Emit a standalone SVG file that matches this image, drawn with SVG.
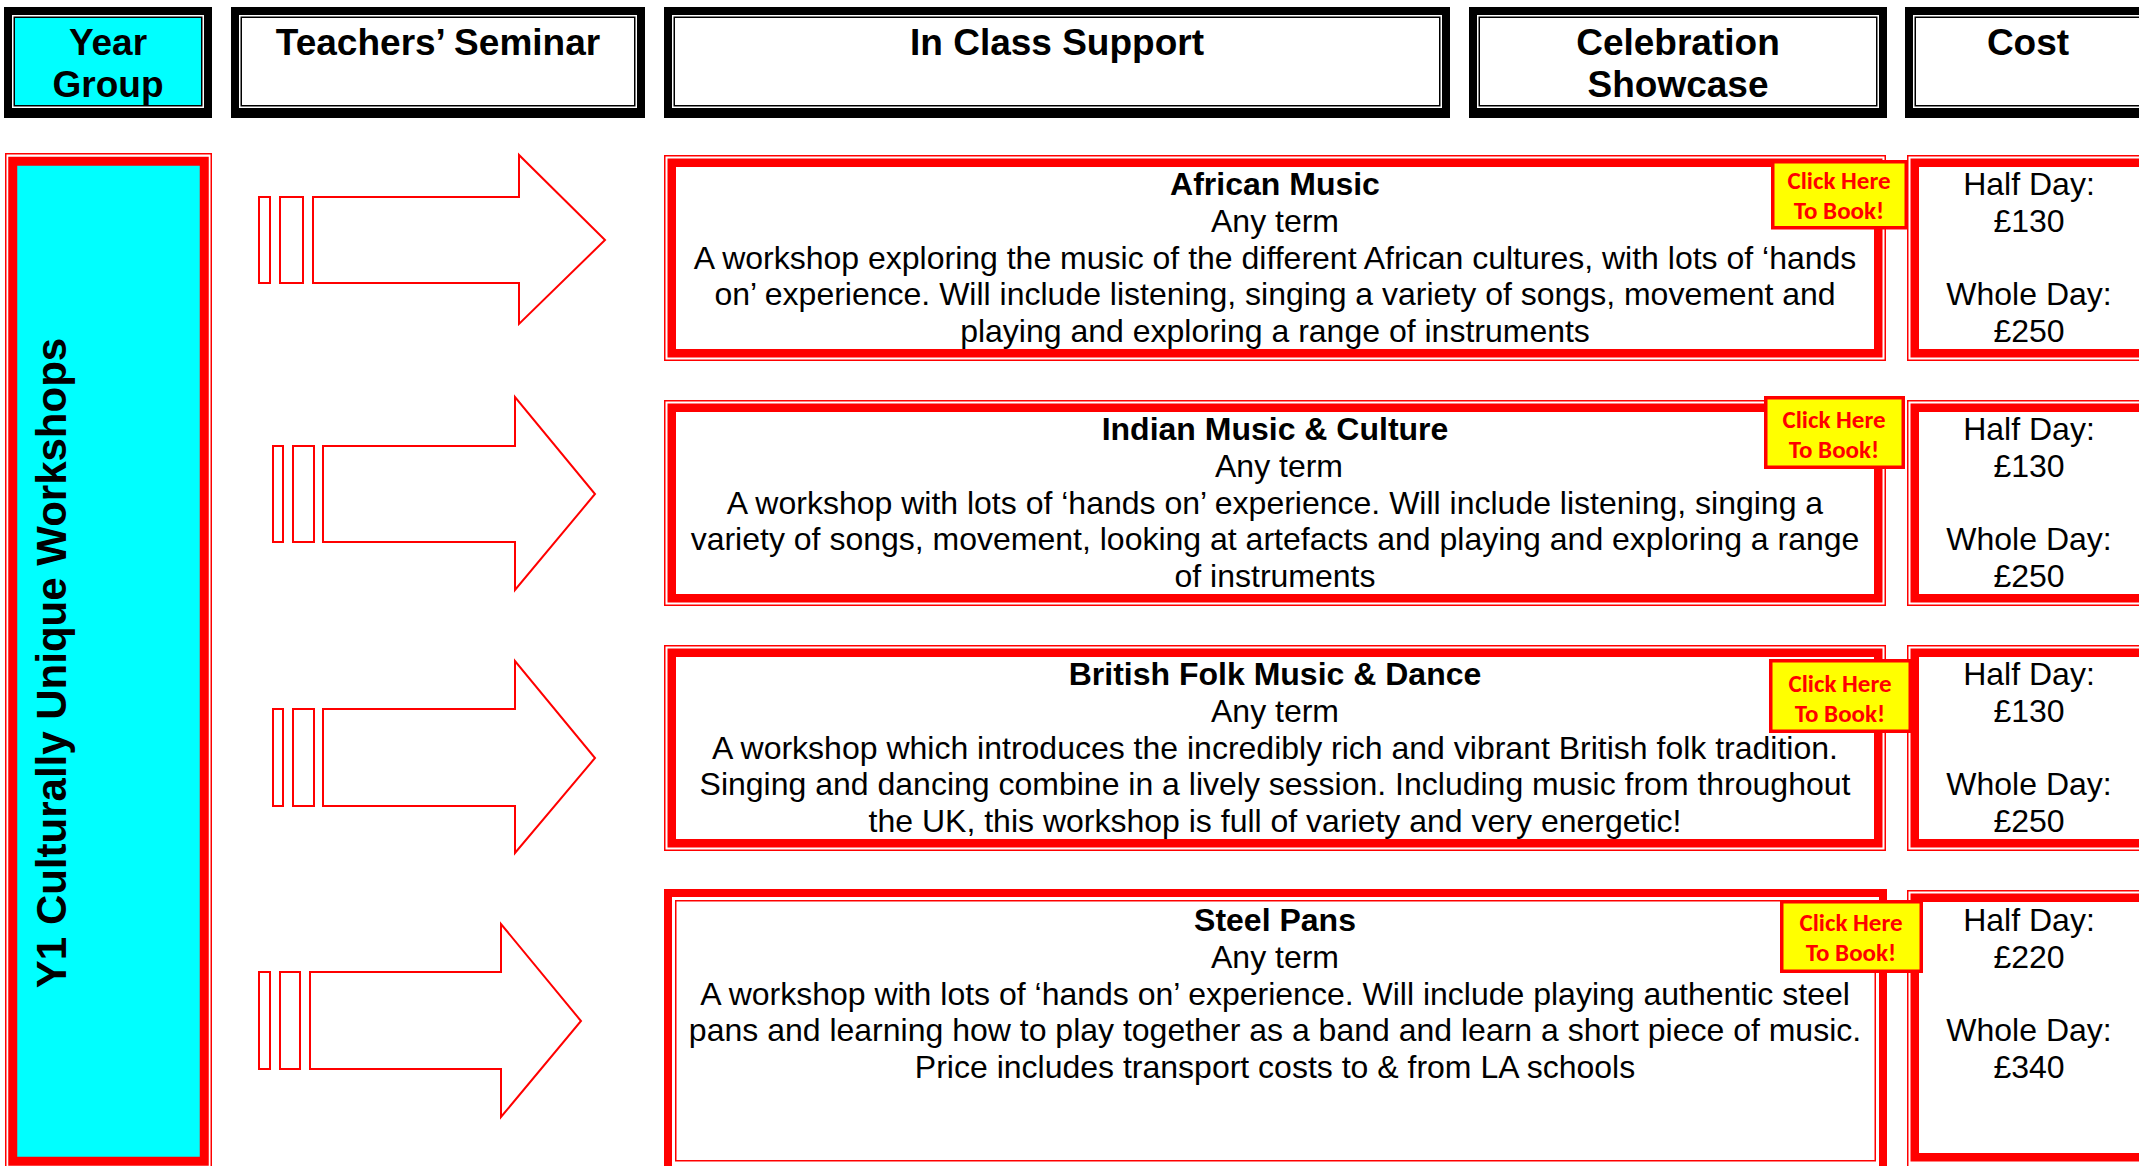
<svg xmlns="http://www.w3.org/2000/svg" width="2139" height="1166" viewBox="0 0 2139 1166">
<style>
.hbo{fill:#000}
.hbg{fill:#fff}
.hbi{fill:#fff;stroke:#000;stroke-width:1.5}
.thin{fill:none;stroke:#ff0000;stroke-width:1.5}
.band{fill:#fff;stroke:#ff0000;stroke-width:8.5}
.arr{fill:#fff;stroke:#ff0000;stroke-width:2;stroke-linejoin:miter}
.ck{fill:#ffff00;stroke:#ff0000;stroke-width:3.5}
.h{font-family:"Liberation Sans",Arial,sans-serif;font-weight:bold;font-size:37px;text-anchor:middle;fill:#000}
.t{font-family:"Liberation Sans",Arial,sans-serif;font-size:32px;text-anchor:middle;fill:#000}
.tb{font-family:"Liberation Sans",Arial,sans-serif;font-size:32px;font-weight:bold;text-anchor:middle;fill:#000}
.ct{font-family:Carlito,Lato,"Open Sans",sans-serif;font-weight:bold;font-size:25px;text-anchor:middle;fill:#ff0000}
.vt{font-family:"Liberation Sans",Arial,sans-serif;font-weight:bold;font-size:42px;text-anchor:middle;fill:#000}
</style>
<rect width="2139" height="1166" fill="#fff"/>

<!-- Header row -->
<g id="hdr-year">
<rect class="hbo" x="4" y="7" width="208" height="111"/>
<rect class="hbg" x="12" y="15" width="192" height="93"/>
<rect class="hbi" x="14.25" y="17.25" width="187.5" height="88.5" style="fill:#00ffff"/>
<text class="h" x="108" y="55">Year</text>
<text class="h" x="108" y="97">Group</text>
</g>
<g id="hdr-teachers">
<rect class="hbo" x="231" y="7" width="414" height="111"/>
<rect class="hbg" x="239" y="15" width="398" height="93"/>
<rect class="hbi" x="241.25" y="17.25" width="393.5" height="88.5"/>
<text class="h" x="438" y="55">Teachers’ Seminar</text>
</g>
<g id="hdr-inclass">
<rect class="hbo" x="664" y="7" width="786" height="111"/>
<rect class="hbg" x="672" y="15" width="770" height="93"/>
<rect class="hbi" x="674.25" y="17.25" width="765.5" height="88.5"/>
<text class="h" x="1057" y="55">In Class Support</text>
</g>
<g id="hdr-celebration">
<rect class="hbo" x="1469" y="7" width="418" height="111"/>
<rect class="hbg" x="1477" y="15" width="402" height="93"/>
<rect class="hbi" x="1479.25" y="17.25" width="397.5" height="88.5"/>
<text class="h" x="1678" y="55">Celebration</text>
<text class="h" x="1678" y="97">Showcase</text>
</g>
<g id="hdr-cost">
<rect class="hbo" x="1905" y="7" width="250" height="111"/>
<rect class="hbg" x="1913" y="15" width="250" height="93"/>
<rect class="hbi" x="1915.25" y="17.25" width="250" height="88.5"/>
<text class="h" x="2028" y="55">Cost</text>
</g>

<!-- Left year group column -->
<g id="year-y1">
<rect class="thin" x="5.75" y="153.75" width="205.5" height="1016"/>
<rect x="12.75" y="161.25" width="191.5" height="1000" fill="#00ffff" stroke="#ff0000" stroke-width="9"/>
<text class="vt" transform="translate(66 663) rotate(-90)">Y1 Culturally Unique Workshops</text>
</g>

<!-- Connectors (arrows) -->
<g id="connectors">
<rect class="arr" x="259" y="197" width="11" height="86"/>
<rect class="arr" x="280" y="197" width="23" height="86"/>
<polygon class="arr" points="313,197 519,197 519,155 605,240 519,324 519,283 313,283"/>

<rect class="arr" x="273" y="446" width="10" height="96"/>
<rect class="arr" x="293" y="446" width="21" height="96"/>
<polygon class="arr" points="323,446 515,446 515,397 595,494 515,590 515,542 323,542"/>

<rect class="arr" x="273" y="709" width="10" height="97"/>
<rect class="arr" x="293" y="709" width="21" height="97"/>
<polygon class="arr" points="323,709 515,709 515,661 595,758 515,853 515,806 323,806"/>

<rect class="arr" x="259" y="972" width="11" height="97"/>
<rect class="arr" x="280" y="972" width="20" height="97"/>
<polygon class="arr" points="310,972 501,972 501,924 581,1021 501,1117 501,1069 310,1069"/>
</g>

<!-- Row 1 -->
<g id="ws-african">
<rect class="thin" x="664.75" y="155.75" width="1220.5" height="204.5"/>
<rect class="band" x="671.75" y="162.75" width="1206.5" height="190.5"/>
<text class="tb" x="1275" y="195">African Music</text>
<text class="t" x="1275" y="232">Any term</text>
<text class="t" x="1275" y="269">A workshop exploring the music of the different African cultures, with lots of ‘hands</text>
<text class="t" x="1275" y="305">on’ experience. Will include listening, singing a variety of songs, movement and</text>
<text class="t" x="1275" y="342">playing and exploring a range of instruments</text>
</g>
<g id="cost-african">
<rect class="thin" x="1907.75" y="155.75" width="260" height="204.5"/>
<rect class="band" x="1914.75" y="162.75" width="260" height="190.5"/>
<text class="t" x="2029" y="195">Half Day:</text>
<text class="t" x="2029" y="232">£130</text>
<text class="t" x="2029" y="305">Whole Day:</text>
<text class="t" x="2029" y="342">£250</text>
</g>

<!-- Row 2 -->
<g id="ws-indian">
<rect class="thin" x="664.75" y="400.75" width="1220.5" height="204.5"/>
<rect class="band" x="671.75" y="407.75" width="1206.5" height="190.5"/>
<text class="tb" x="1275" y="440">Indian Music &amp; Culture</text>
<text class="t" x="1279" y="477">Any term</text>
<text class="t" x="1275" y="514">A workshop with lots of ‘hands on’ experience. Will include listening, singing a</text>
<text class="t" x="1275" y="550">variety of songs, movement, looking at artefacts and playing and exploring a range</text>
<text class="t" x="1275" y="587">of instruments</text>
</g>
<g id="cost-indian">
<rect class="thin" x="1907.75" y="400.75" width="260" height="204.5"/>
<rect class="band" x="1914.75" y="407.75" width="260" height="190.5"/>
<text class="t" x="2029" y="440">Half Day:</text>
<text class="t" x="2029" y="477">£130</text>
<text class="t" x="2029" y="550">Whole Day:</text>
<text class="t" x="2029" y="587">£250</text>
</g>

<!-- Row 3 -->
<g id="ws-folk">
<rect class="thin" x="664.75" y="645.75" width="1220.5" height="204.5"/>
<rect class="band" x="671.75" y="652.75" width="1206.5" height="190.5"/>
<text class="tb" x="1275" y="685">British Folk Music &amp; Dance</text>
<text class="t" x="1275" y="722">Any term</text>
<text class="t" x="1275" y="759">A workshop which introduces the incredibly rich and vibrant British folk tradition.</text>
<text class="t" x="1275" y="795">Singing and dancing combine in a lively session. Including music from throughout</text>
<text class="t" x="1275" y="832">the UK, this workshop is full of variety and very energetic!</text>
</g>
<g id="cost-folk">
<rect class="thin" x="1907.75" y="645.75" width="260" height="204.5"/>
<rect class="band" x="1914.75" y="652.75" width="260" height="190.5"/>
<text class="t" x="2029" y="685">Half Day:</text>
<text class="t" x="2029" y="722">£130</text>
<text class="t" x="2029" y="795">Whole Day:</text>
<text class="t" x="2029" y="832">£250</text>
</g>

<!-- Row 4 -->
<g id="ws-steel">
<rect x="668" y="893" width="1215" height="280" fill="#fff" stroke="#ff0000" stroke-width="8"/>
<rect class="thin" x="675.75" y="900.75" width="1199.5" height="260"/>
<text class="tb" x="1275" y="931">Steel Pans</text>
<text class="t" x="1275" y="968">Any term</text>
<text class="t" x="1275" y="1005">A workshop with lots of ‘hands on’ experience. Will include playing authentic steel</text>
<text class="t" x="1275" y="1041">pans and learning how to play together as a band and learn a short piece of music.</text>
<text class="t" x="1275" y="1078">Price includes transport costs to &amp; from LA schools</text>
</g>
<g id="cost-steel">
<rect class="thin" x="1907.75" y="890.75" width="260" height="300"/>
<rect class="band" x="1914.75" y="897.75" width="260" height="259.5"/>
<text class="t" x="2029" y="931">Half Day:</text>
<text class="t" x="2029" y="968">£220</text>
<text class="t" x="2029" y="1041">Whole Day:</text>
<text class="t" x="2029" y="1078">£340</text>
</g>

<!-- Booking buttons -->
<g id="book-african">
<rect class="ck" x="1772.75" y="161.75" width="133.5" height="66"/>
<text class="ct" x="1839" y="189">Click Here</text>
<text class="ct" x="1839" y="219">To Book!</text>
</g>
<g id="book-indian">
<rect class="ck" x="1765.75" y="397.75" width="137.5" height="69.5"/>
<text class="ct" x="1834" y="428">Click Here</text>
<text class="ct" x="1834" y="458">To Book!</text>
</g>
<g id="book-folk">
<rect class="ck" x="1770.75" y="660.75" width="139.5" height="70.5"/>
<text class="ct" x="1840" y="692">Click Here</text>
<text class="ct" x="1840" y="722">To Book!</text>
</g>
<g id="book-steel">
<rect class="ck" x="1781.75" y="901.75" width="139.5" height="69.5"/>
<text class="ct" x="1851" y="931">Click Here</text>
<text class="ct" x="1851" y="961">To Book!</text>
</g>
</svg>
